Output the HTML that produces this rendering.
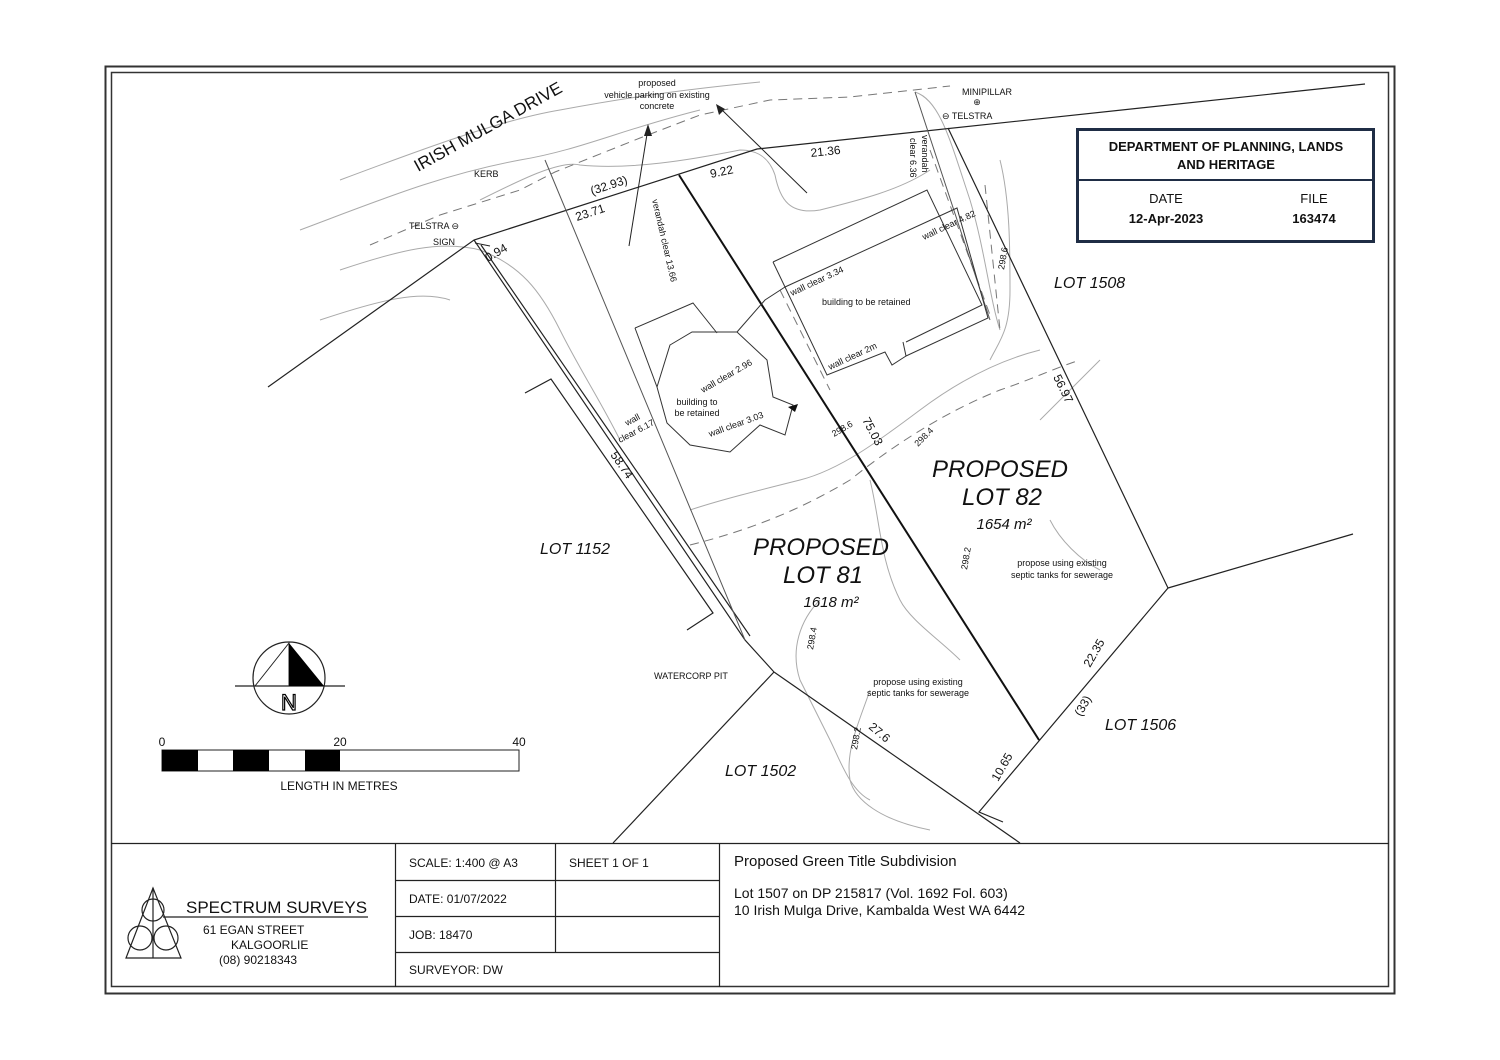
<!DOCTYPE html>
<html><head><meta charset="utf-8"><style>
html,body{margin:0;padding:0;background:#fff}
svg{display:block}
text{font-family:"Liberation Sans",sans-serif;fill:#111}
</style></head><body>
<svg width="1500" height="1060" viewBox="0 0 1500 1060" xmlns="http://www.w3.org/2000/svg">
<rect x="0" y="0" width="1500" height="1060" fill="#fff"/>
<!-- frame -->
<rect x="105.5" y="66.5" width="1289" height="927" fill="none" stroke="#333" stroke-width="2"/>
<rect x="111.5" y="72.5" width="1277" height="914" fill="none" stroke="#333" stroke-width="1.5"/>

<!-- contours / grey -->
<g fill="none" stroke="#aaa" stroke-width="1">
<path d="M340 180 C420 150 500 120 560 110 C640 95 700 88 760 82"/>
<path d="M300 230 C380 200 440 175 520 160 C580 150 620 130 700 110"/>
<path d="M340 270 C400 250 440 240 480 250 C520 265 540 290 560 330 C580 370 600 400 620 440"/>
<path d="M320 320 C380 300 420 290 450 300"/>
<path d="M480 200 C520 180 560 160 580 165 C630 170 690 160 740 150 C760 150 770 160 775 175 C780 200 790 215 820 210 C860 200 900 190 930 170"/>
<path d="M690 510 C720 500 760 490 800 480 C840 470 880 440 920 410 C960 380 1000 360 1040 350"/>
<path d="M870 480 C880 520 880 560 900 600 C910 620 940 640 960 660"/>
<path d="M820 600 C800 620 790 650 800 680 C810 700 820 720 830 740 C840 760 850 790 870 800"/>
<path d="M870 690 C860 720 845 750 850 780 C855 800 880 820 930 830"/>
<path d="M1040 420 C1060 400 1080 380 1100 360"/>
<path d="M915 92 C940 100 950 140 970 200 C985 250 990 300 1000 330"/>
<path d="M1000 160 C1010 200 1010 250 1010 290 C1010 330 1000 340 990 360"/>
<path d="M1050 520 C1060 540 1080 560 1100 570"/>
</g>
<g fill="none" stroke="#777" stroke-width="1" stroke-dasharray="9,6">
<path d="M370 245 L440 215 L520 190 L555 172 L590 158 L640 138 L700 115 L770 100 L850 97 L950 86"/>
<path d="M690 545 C750 530 800 510 850 480 C900 440 950 410 1000 390 C1030 380 1050 370 1080 360"/>
<path d="M985 185 L1000 330"/>
<path d="M930 150 L990 315"/>
<path d="M780 290 L830 390"/>
</g>

<!-- road line / major boundaries -->
<g fill="none" stroke="#222" stroke-width="1.2">
<path d="M268 387 L474 240 L757 149 L1365 84"/>
<path d="M474 240 L745 640 L774 672"/>
<path d="M481 245 L750 636"/>
<path d="M948 128 L1168 588 L979 812 L1003 822"/>
<path d="M1168 588 L1353 534"/>
<path d="M774 672 L1020 843"/>
<path d="M774 672 L613 843"/>
<path d="M525 393 L551 379 L713 613 L687 630"/>
<path d="M545 160 L745 640" stroke="#555" stroke-width="1"/>
<path d="M915 92 L990 320" stroke="#555" stroke-width="1"/>
</g>
<path d="M679 175 L1039 740" stroke="#111" stroke-width="2" fill="none"/>

<!-- arrows -->
<g stroke="#222" stroke-width="1" fill="none">
<path d="M629 246 L648 128"/>
<path d="M807 193 L720 108"/>
<path d="M475 243 L490 246"/>
</g>
<path d="M648 124 L644 136 L652 136 Z" fill="#222"/>
<path d="M716 104 L719 115 L725 109 Z" fill="#222"/>

<!-- octagon building -->
<g fill="none" stroke="#333" stroke-width="1">
<path d="M670 345 L692 332 L737 332 L767 360 L773 397 L793 405 L785 435 L760 425 L730 452 L690 445 L667 423 L657 387 Z"/>
<path d="M635 328 L693 303 L717 333"/>
<path d="M635 328 L657 387"/>
<path d="M737 332 L765 300 L785 287"/>
<!-- rectangular building -->
<path d="M773 262 L927 190 L982 305 L906 342"/>
<path d="M785 287 L957 208 L988 318 L906 356 L903 342"/>
<path d="M785 287 L827 375 L885 352 L892 365 L906 356"/>
<path d="M773 262 L785 287"/>
</g>
<path d="M788 407 L798 404 L795 412 Z" fill="#111"/>

<!-- compass -->
<circle cx="289" cy="678" r="36" fill="none" stroke="#222" stroke-width="1.2"/>
<line x1="235" y1="686" x2="345" y2="686" stroke="#222" stroke-width="1.2"/>
<path d="M289 643 L255 686 L289 686 Z" fill="none" stroke="#222"/>
<path d="M289 643 L324 686 L289 686 Z" fill="#000"/>
<text x="289" y="710" text-anchor="middle" font-size="22" style="fill:#fff;stroke:#000;stroke-width:1.2">N</text>

<!-- scale bar -->
<rect x="162" y="750" width="357" height="21" fill="#fff" stroke="#222"/>
<rect x="162" y="750" width="36" height="21" fill="#000"/>
<rect x="233" y="750" width="36" height="21" fill="#000"/>
<rect x="305" y="750" width="35" height="21" fill="#000"/>
<text x="162" y="746" font-size="12" text-anchor="middle">0</text>
<text x="340" y="746" font-size="12" text-anchor="middle">20</text>
<text x="519" y="746" font-size="12" text-anchor="middle">40</text>
<text x="339" y="790" font-size="12" text-anchor="middle">LENGTH IN METRES</text>

<!-- labels -->
<text font-size="17" transform="translate(418,172) rotate(-29)">IRISH MULGA DRIVE</text>
<text x="474" y="177" font-size="9">KERB</text>
<text x="409" y="229" font-size="9">TELSTRA ⊖</text>
<text x="433" y="245" font-size="9">SIGN</text>
<text x="657" y="86" font-size="9" text-anchor="middle">proposed</text>
<text x="657" y="98" font-size="9" text-anchor="middle">vehicle parking on existing</text>
<text x="657" y="109" font-size="9" text-anchor="middle">concrete</text>
<text x="962" y="95" font-size="9">MINIPILLAR</text>
<text x="977" y="105" font-size="9" text-anchor="middle">⊕</text>
<text x="942" y="119" font-size="9">⊖ TELSTRA</text>
<g font-size="12">
<text transform="translate(592,195) rotate(-18)">(32.93)</text>
<text transform="translate(577,221) rotate(-18)">23.71</text>
<text transform="translate(711,178) rotate(-12)">9.22</text>
<text transform="translate(811,157) rotate(-6)">21.36</text>
<text transform="translate(488,262) rotate(-30)">0.94</text>
<text transform="translate(862,420) rotate(62)">75.03</text>
<text transform="translate(1053,377) rotate(64)">56.97</text>
<text transform="translate(610,455) rotate(55)">58.74</text>
<text transform="translate(1090,668) rotate(-60)">22.35</text>
<text transform="translate(1081,717) rotate(-60)">(33)</text>
<text transform="translate(998,782) rotate(-60)">10.65</text>
<text transform="translate(868,728) rotate(40)">27.6</text>
</g>
<g font-size="9">
<text transform="translate(652,200) rotate(77)">verandah clear 13.66</text>
<text transform="translate(922,135) rotate(90)">verandah</text>
<text transform="translate(910,138) rotate(90)">clear 6.36</text>
<text transform="translate(924,240) rotate(-25)">wall clear 4.82</text>
<text transform="translate(792,296) rotate(-25)">wall clear 3.34</text>
<text transform="translate(830,370) rotate(-25)">wall clear 2m</text>
<text transform="translate(703,393) rotate(-30)">wall clear 2.96</text>
<text transform="translate(710,437) rotate(-20)">wall clear 3.03</text>
<text transform="translate(627,426) rotate(-28)">wall</text>
<text transform="translate(620,443) rotate(-28)">clear 6.17</text>
<text x="822" y="305">building to be retained</text>
<text x="697" y="405" text-anchor="middle">building to</text>
<text x="697" y="416" text-anchor="middle">be retained</text>
<text x="654" y="679">WATERCORP PIT</text>
<text x="1062" y="566" text-anchor="middle">propose using existing</text>
<text x="1062" y="578" text-anchor="middle">septic tanks for sewerage</text>
<text x="918" y="685" text-anchor="middle">propose using existing</text>
<text x="918" y="696" text-anchor="middle">septic tanks for sewerage</text>
</g>
<g font-size="9" style="fill:#888">
<text transform="translate(967,570) rotate(-80)">298.2</text>
<text transform="translate(813,650) rotate(-80)">298.4</text>
<text transform="translate(857,750) rotate(-80)">298.2</text>
<text transform="translate(834,437) rotate(-30)">298.6</text>
<text transform="translate(918,447) rotate(-45)">298.4</text>
<text transform="translate(1004,270) rotate(-80)">298.6</text>
</g>
<g font-size="16" font-style="italic">
<text x="1054" y="288">LOT 1508</text>
<text x="540" y="554">LOT 1152</text>
<text x="1105" y="730">LOT 1506</text>
<text x="725" y="776">LOT 1502</text>
</g>
<g font-size="24" font-style="italic">
<text x="1000" y="477" text-anchor="middle">PROPOSED</text>
<text x="1002" y="505" text-anchor="middle">LOT 82</text>
<text x="821" y="555" text-anchor="middle">PROPOSED</text>
<text x="823" y="583" text-anchor="middle">LOT 81</text>
</g>
<g font-size="15" font-style="italic">
<text x="1004" y="529" text-anchor="middle">1654 m²</text>
<text x="831" y="607" text-anchor="middle">1618 m²</text>
</g>

<!-- stamp -->
<rect x="1077.5" y="129.5" width="296" height="112" fill="#fff" stroke="#1f2d45" stroke-width="3"/>
<line x1="1078" y1="180" x2="1373" y2="180" stroke="#1f2d45" stroke-width="2"/>
<g style="fill:#1f2d45" font-family="DejaVu Sans" font-weight="bold" font-size="13" text-anchor="middle">
<text x="1226" y="151">DEPARTMENT OF PLANNING, LANDS</text>
<text x="1226" y="169">AND HERITAGE</text>
<text x="1166" y="223">12-Apr-2023</text>
<text x="1314" y="223">163474</text>
</g>
<g style="fill:#1f2d45" font-family="DejaVu Sans" font-size="13" text-anchor="middle">
<text x="1166" y="203">DATE</text>
<text x="1314" y="203">FILE</text>
</g>

<!-- title block -->
<g stroke="#222" stroke-width="1.2" fill="none">
<line x1="111" y1="843.5" x2="1389" y2="843.5"/>
<line x1="395.5" y1="843" x2="395.5" y2="987"/>
<line x1="719.5" y1="843" x2="719.5" y2="987"/>
<line x1="555.5" y1="843" x2="555.5" y2="952"/>
<line x1="395" y1="880.5" x2="720" y2="880.5"/>
<line x1="395" y1="916.5" x2="720" y2="916.5"/>
<line x1="395" y1="952.5" x2="720" y2="952.5"/>
<path d="M153 888 L126 958 L181 958 Z"/>
<line x1="153" y1="888" x2="153" y2="958"/>
<circle cx="153" cy="910" r="11"/>
<circle cx="140" cy="938" r="12"/>
<circle cx="166" cy="938" r="12"/>
<line x1="163" y1="917" x2="368" y2="917"/>
</g>
<text x="186" y="913" font-size="17">SPECTRUM SURVEYS</text>
<g font-size="12">
<text x="203" y="934">61 EGAN STREET</text>
<text x="231" y="949">KALGOORLIE</text>
<text x="219" y="964">(08) 90218343</text>
<text x="409" y="867">SCALE:  1:400 @ A3</text>
<text x="569" y="867">SHEET 1 OF 1</text>
<text x="409" y="903">DATE: 01/07/2022</text>
<text x="409" y="939">JOB: 18470</text>
<text x="409" y="974">SURVEYOR: DW</text>
</g>
<text x="734" y="866" font-size="15">Proposed Green Title Subdivision</text>
<text x="734" y="898" font-size="14">Lot 1507 on DP 215817 (Vol. 1692  Fol. 603)</text>
<text x="734" y="915" font-size="14">10 Irish Mulga Drive, Kambalda West WA 6442</text>
</svg>
</body></html>
